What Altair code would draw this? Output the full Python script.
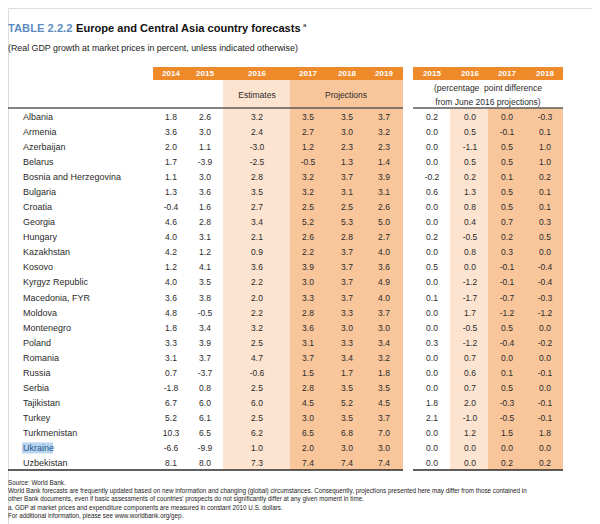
import altair as alt
import pandas as pd

# ---------------- data ----------------
countries = ["Albania", "Armenia", "Azerbaijan", "Belarus", "Bosnia and Herzegovina",
             "Bulgaria", "Croatia", "Georgia", "Hungary", "Kazakhstan", "Kosovo",
             "Kyrgyz Republic", "Macedonia, FYR", "Moldova", "Montenegro", "Poland",
             "Romania", "Russia", "Serbia", "Tajikistan", "Turkey", "Turkmenistan",
             "Ukraine", "Uzbekistan"]
g2014 = [1.8, 3.6, 2.0, 1.7, 1.1, 1.3, -0.4, 4.6, 4.0, 4.2, 1.2, 4.0, 3.6, 4.8, 1.8, 3.3, 3.1, 0.7, -1.8, 6.7, 5.2, 10.3, -6.6, 8.1]
g2015 = [2.6, 3.0, 1.1, -3.9, 3.0, 3.6, 1.6, 2.8, 3.1, 1.2, 4.1, 3.5, 3.8, -0.5, 3.4, 3.9, 3.7, -3.7, 0.8, 6.0, 6.1, 6.5, -9.9, 8.0]
g2016 = [3.2, 2.4, -3.0, -2.5, 2.8, 3.5, 2.7, 3.4, 2.1, 0.9, 3.6, 2.2, 2.0, 2.2, 3.2, 2.5, 4.7, -0.6, 2.5, 6.0, 2.5, 6.2, 1.0, 7.3]
g2017 = [3.5, 2.7, 1.2, -0.5, 3.2, 3.2, 2.5, 5.2, 2.6, 2.2, 3.9, 3.0, 3.3, 2.8, 3.6, 3.1, 3.7, 1.5, 2.8, 4.5, 3.0, 6.5, 2.0, 7.4]
g2018 = [3.5, 3.0, 2.3, 1.3, 3.7, 3.1, 2.5, 5.3, 2.8, 3.7, 3.7, 3.7, 3.7, 3.3, 3.0, 3.3, 3.4, 1.7, 3.5, 5.2, 3.5, 6.8, 3.0, 7.4]
g2019 = [3.7, 3.2, 2.3, 1.4, 3.9, 3.1, 2.6, 5.0, 2.7, 4.0, 3.6, 4.9, 4.0, 3.7, 3.0, 3.4, 3.2, 1.8, 3.5, 4.5, 3.7, 7.0, 3.0, 7.4]
d2015 = [0.2, 0.0, 0.0, 0.0, -0.2, 0.6, 0.0, 0.0, 0.2, 0.0, 0.5, 0.0, 0.1, 0.0, 0.0, 0.3, 0.0, 0.0, 0.0, 1.8, 2.1, 0.0, 0.0, 0.0]
d2016 = [0.0, 0.5, -1.1, 0.5, 0.2, 1.3, 0.8, 0.4, -0.5, 0.8, 0.0, -1.2, -1.7, 1.7, -0.5, -1.2, 0.7, 0.6, 0.7, 2.0, -1.0, 1.2, 0.0, 0.0]
d2017 = [0.0, -0.1, 0.5, 0.5, 0.1, 0.5, 0.5, 0.7, 0.2, 0.3, -0.1, -0.1, -0.7, -1.2, 0.5, -0.4, 0.0, 0.1, 0.5, -0.3, -0.5, 1.5, 0.0, 0.2]
d2018 = [-0.3, 0.1, 1.0, 1.0, 0.2, 0.1, 0.1, 0.3, 0.5, 0.0, -0.4, -0.4, -0.3, -1.2, 0.0, -0.2, 0.0, -0.1, 0.0, -0.1, -0.1, 1.8, 0.0, 0.2]

col_keys = ["g2014", "g2015", "g2016", "g2017", "g2018", "g2019", "d2015", "d2016", "d2017", "d2018"]
col_labels = ["2014", "2015", "2016", "2017", "2018", "2019", "2015", "2016", "2017", "2018"]
series = [g2014, g2015, g2016, g2017, g2018, g2019, d2015, d2016, d2017, d2018]

title_a = "TABLE 2.2.2"
title_b = "Europe and Central Asia country forecasts"
subtitle = "(Real GDP growth at market prices in percent, unless indicated otherwise)"
notes = [
    "Source: World Bank.",
    "World Bank forecasts are frequently updated based on new information and changing (global) circumstances. Consequently, projections presented here may differ from those contained in",
    "other Bank documents, even if basic assessments of countries' prospects do not significantly differ at any given moment in time.",
    "a. GDP at market prices and expenditure components are measured in constant 2010 U.S. dollars.",
    "For additional information, please see www.worldbank.org/gep.",
]

# ---------------- layout ----------------
W, H = 584, 516
FONT = "Liberation Sans"
col_x = [163, 197, 249, 300, 339, 376, 424, 462, 499, 537]
ROW_Y0, ROW_Y1 = 109, 455
ORANGE = "#ef8a2b"
LIGHT = "#fde4d0"
DARK = "#f9c69c"
TXT = "#2b2b2b"

rows = []
for key, vals in zip(col_keys, series):
    for c, v in zip(countries, vals):
        rows.append({"country": c, "col": key, "label": f"{v:.1f}"})
df = pd.DataFrame(rows)
df["xpos"] = df["col"].map(dict(zip(col_keys, col_x)))
df_head = pd.DataFrame({"col": col_keys, "label": col_labels})
df_head["xpos"] = df_head["col"].map(dict(zip(col_keys, col_x)))
df_c = pd.DataFrame({"country": countries})

dummy = pd.DataFrame({"a": [0]})
xscale = alt.Scale(domain=[0, W], range=[0, W], nice=False, zero=False)
yscale = alt.Scale(type="point", domain=countries, range=[ROW_Y0, ROW_Y1], padding=0)


def rect(x0, x1, y0, y1, color):
    return alt.Chart(dummy).mark_rect(color=color).encode(
        x=alt.value(x0), x2=alt.value(x1), y=alt.value(y0), y2=alt.value(y1))


def rule(x0, x1, y, color, w):
    return alt.Chart(dummy).mark_rule(color=color, strokeWidth=w).encode(
        x=alt.value(x0), x2=alt.value(x1), y=alt.value(y))


def txt(s, x, y, size=9, color=TXT, weight="normal", align="left"):
    return alt.Chart(dummy).mark_text(
        text=s, fontSize=size, font=FONT, color=color, fontWeight=weight,
        align=align, baseline="middle").encode(x=alt.value(x), y=alt.value(y))


layers = [
    # column shading
    rect(215, 282, 72, 462, LIGHT),
    rect(282, 395, 72, 462, DARK),
    rect(442, 480, 100, 462, LIGHT),
    rect(480, 555, 100, 462, DARK),
    # orange header bars
    rect(145, 395, 59, 72, ORANGE),
    rect(405, 555, 59, 72, ORANGE),
    # header rules
    rule(0, 395, 100, "#5a5a5a", 1.6),
    rule(405, 555, 100, "#5a5a5a", 1.6),
    rule(0, 395, 462, "#2a2a2a", 1.4),
    rule(405, 555, 462, "#2a2a2a", 1.4),
    # titles
    txt(title_a, 0, 21, size=11.2, color="#5b8bbf", weight="bold"),
    txt(title_b, 68, 21, size=11.1, color="#111111", weight="bold"),
    txt("a", 295, 17, size=6, color="#111111"),
    txt(subtitle, 0, 40, size=8.85, color="#222222"),
    # second header row
    txt("Estimates", 249, 87, size=8.5, align="center"),
    txt("Projections", 338, 87, size=8.5, align="center"),
    txt("(percentage\u00a0 point difference", 480, 80, size=8.5, align="center"),
    txt("from June 2016 projections)", 480, 94, size=8.5, align="center"),
]

# header year labels
layers.append(
    alt.Chart(df_head).mark_text(fontSize=8, font=FONT, fontWeight="bold", color="white",
                                 baseline="middle").encode(
        x=alt.X("xpos:Q", scale=xscale, axis=None),
        y=alt.value(66),
        text="label:N")
)

# Ukraine highlight
layers.append(
    alt.Chart(df_c).transform_filter(alt.datum.country == "Ukraine").mark_bar(
        height=11, color="#b9d4ee").encode(
        x=alt.value(14), x2=alt.value(45),
        y=alt.Y("country:N", scale=yscale, axis=None))
)

# country names
layers.append(
    alt.Chart(df_c).mark_text(fontSize=9, font=FONT, align="left", baseline="middle").encode(
        x=alt.value(15),
        y=alt.Y("country:N", scale=yscale, axis=None),
        text="country:N",
        color=alt.condition(alt.datum.country == "Ukraine", alt.value("#24578f"), alt.value(TXT)))
)

# values
layers.append(
    alt.Chart(df).mark_text(fontSize=8.5, font=FONT, color=TXT, baseline="middle").encode(
        x=alt.X("xpos:Q", scale=xscale, axis=None),
        y=alt.Y("country:N", scale=yscale, axis=None),
        text="label:N")
)

# footnotes
for i, n in enumerate(notes):
    layers.append(txt(n, 0, 475 + i * 8.2, size=6.3, color="#222222"))

chart = alt.layer(*layers).properties(
    width=W, height=H, autosize=alt.AutoSizeParams(type="none"), padding=0
).configure_view(stroke=None).configure(background="white")

chart.save("out.html", embed_options={"renderer": "svg", "actions": False})
